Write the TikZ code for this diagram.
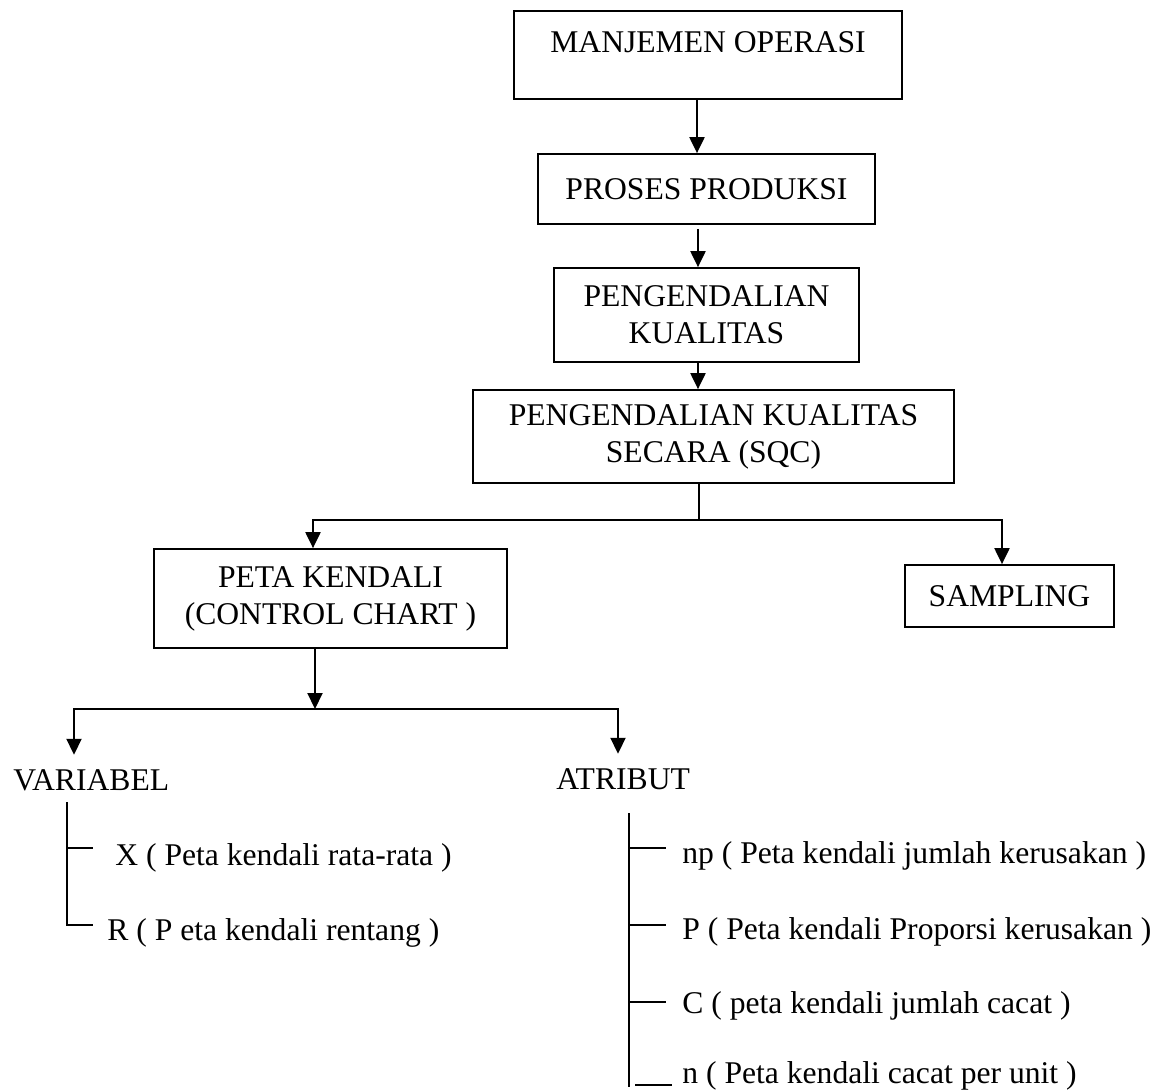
\documentclass[tikz,border=0pt]{standalone}
\usepackage{fontspec}
\setmainfont{Liberation Serif}
\usetikzlibrary{arrows.meta}

\tikzset{
  kotak/.style={draw, line width=1pt, align=center, inner sep=0pt},
  panah/.style={line width=1.2pt, -{Triangle[width=0.3cm,length=0.32cm]}},
  garis/.style={line width=1pt},
  teks/.style={anchor=base west, inner sep=0pt}
}

\begin{document}
\begin{tikzpicture}[x=0.02cm, y=-0.02cm, font=\fontsize{18}{21}\selectfont]
\useasboundingbox (0,0) rectangle (1164,1091);

\path (708,55) node[kotak, minimum width=7.76cm, minimum height=1.76cm, text depth=0.52cm] (manajemen) {MANJEMEN OPERASI}
      (706.5,189) node[kotak, minimum width=6.74cm, minimum height=1.4cm] (proses) {PROSES PRODUKSI}
      (706.5,315) node[kotak, minimum width=6.1cm, minimum height=1.88cm] (kualitas) {PENGENDALIAN\\KUALITAS}
      (713.5,436.5) node[kotak, minimum width=9.62cm, minimum height=1.86cm] (sqc) {PENGENDALIAN KUALITAS\\SECARA (SQC)}
      (330.5,598.5) node[kotak, minimum width=7.06cm, minimum height=1.98cm] (peta) {PETA KENDALI\\(CONTROL CHART )}
      (1009.5,596) node[kotak, minimum width=4.18cm, minimum height=1.24cm] (sampling) {SAMPLING}
      (13,790) node[teks] (variabel) {VARIABEL}
      (556,789) node[teks] (atribut) {ATRIBUT}
      (115,865) node[teks] (xbar) {X ( Peta kendali rata-rata )}
      (107,940) node[teks] (rentang) {R ( P eta kendali rentang )}
      (682,863) node[teks] (np) {np ( Peta kendali jumlah kerusakan )}
      (682,939) node[teks] (proporsi) {P ( Peta kendali Proporsi kerusakan )}
      (682,1013) node[teks] (cacat) {C ( peta kendali jumlah cacat )}
      (682,1083) node[teks] (perunit) {n ( Peta kendali cacat per unit )}
      ;

\coordinate (a1) at (697,0);
\coordinate (a2) at (698,0);
\coordinate (cabang1) at (699,520);
\coordinate (kiri1) at (313,520);
\coordinate (kanan1) at (1002,520);
\coordinate (cabang2) at (315,709);
\coordinate (kiri2) at (74,709);
\coordinate (kanan2) at (618,709);

\draw[panah] (manajemen.south -| a1) -- (proses.north -| a1);
\draw[panah, shorten <=0.08cm] (proses.south -| a2) -- (kualitas.north -| a2);
\draw[panah] (kualitas.south -| a2) -- (sqc.north -| a2);
\draw[line width=1.1pt] (sqc.south -| cabang1) -- (cabang1);
\draw[panah] (cabang1) -- (kiri1) -- (peta.north -| kiri1);
\draw[panah] (cabang1) -- (kanan1) -- (sampling.north -| kanan1);
\draw[panah] (peta.south -| cabang2) -- (cabang2);
\draw[panah, shorten >=0.28cm] (cabang2) -- (kiri2) -- (variabel.north -| kiri2);
\draw[panah, shorten >=0.28cm] (cabang2) -- (kanan2) -- (atribut.north -| kanan2);

\coordinate (v0) at (67,802);
\coordinate (v1) at (67,848);
\coordinate (v2) at (67,925);
\draw[garis] (v0) -- (v2) -- +(26,0);
\draw[garis] (v1) -- +(26,0);

\coordinate (t0) at (629,813);
\coordinate (t1) at (629,848);
\coordinate (t2) at (629,925);
\coordinate (t3) at (629,1002);
\coordinate (t4) at (629,1087);
\draw[garis] (t0) -- (t4);
\draw[garis] (t1) -- +(37,0);
\draw[garis] (t2) -- +(37,0);
\draw[garis] (t3) -- +(37,0);
\draw[garis] (635,1085) -- (672,1085);
\end{tikzpicture}
\end{document}
